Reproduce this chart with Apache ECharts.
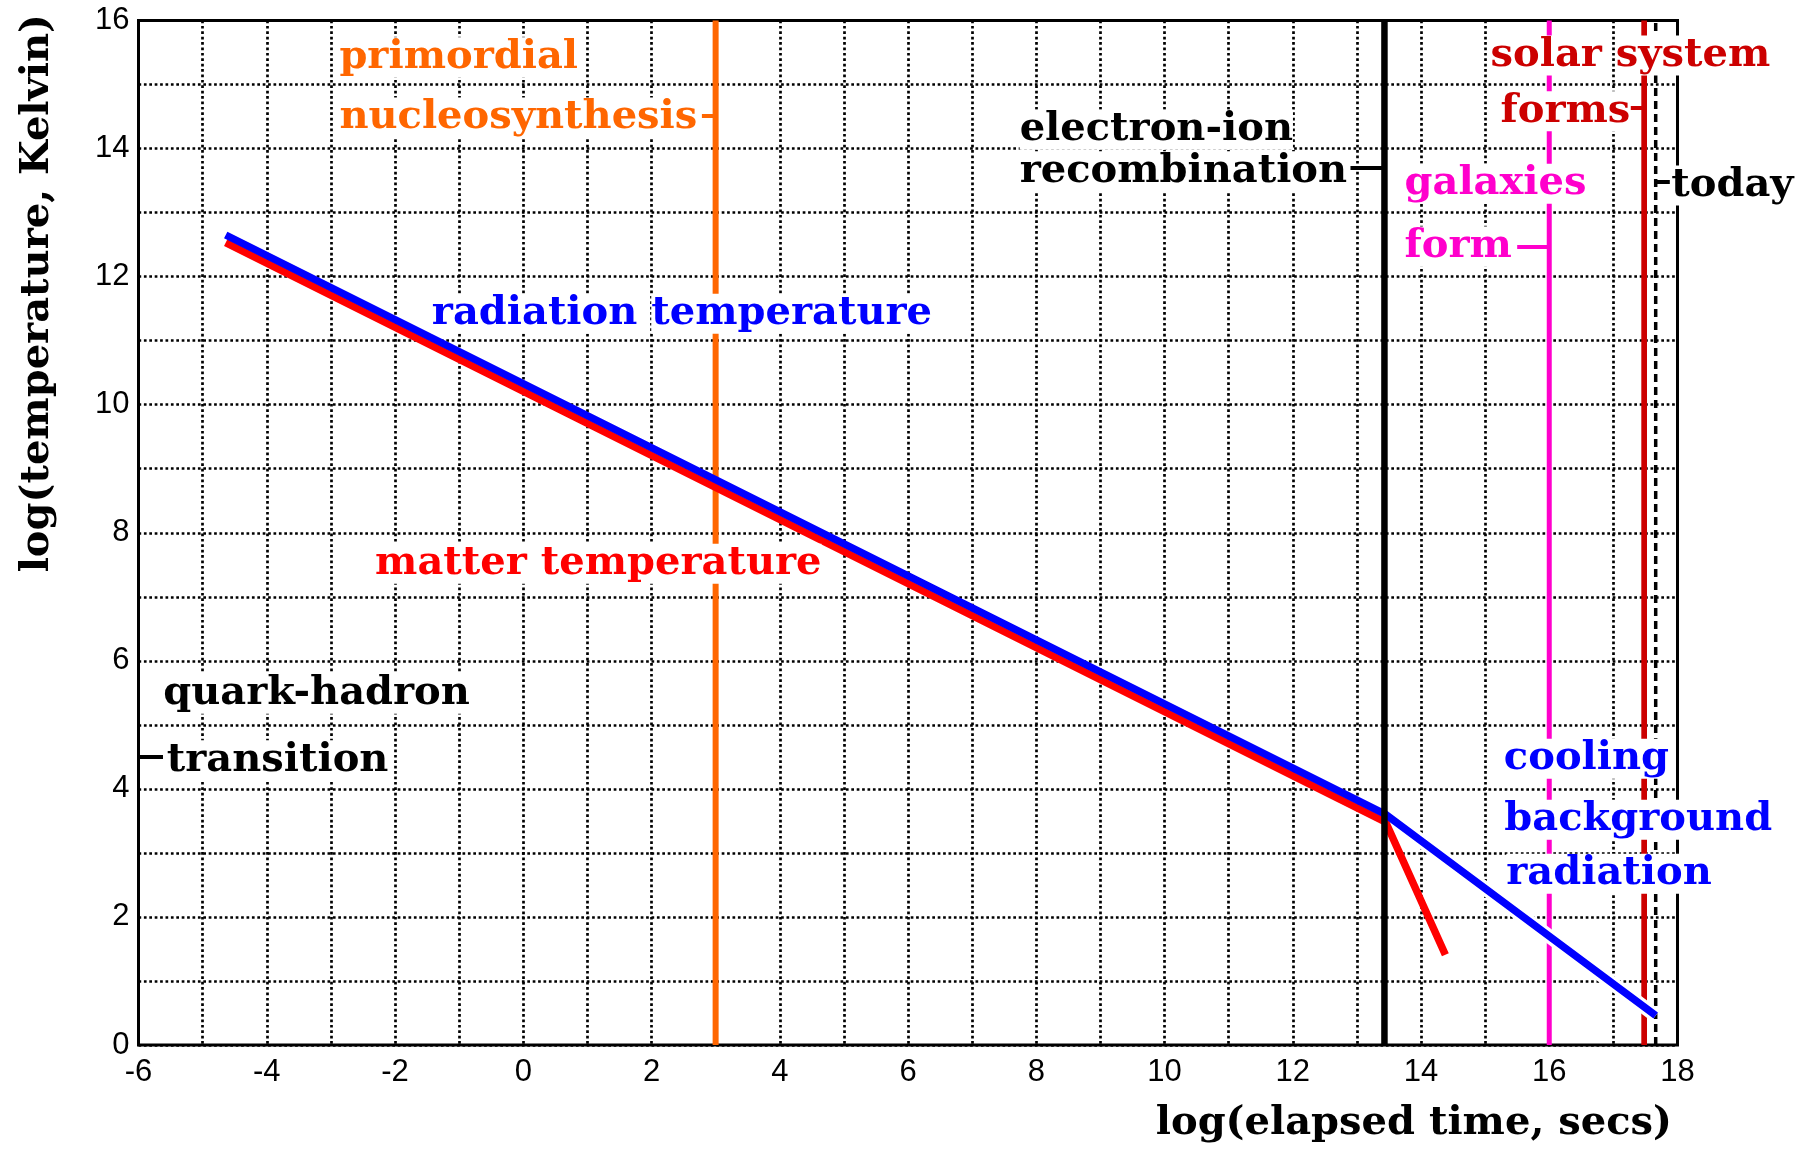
<!DOCTYPE html>
<html>
<head>
<meta charset="utf-8">
<title>Thermal history of the universe</title>
<script src="https://cdn.jsdelivr.net/npm/echarts@6/dist/echarts.min.js"></script>
<style>
  html, body { margin: 0; padding: 0; background: #ffffff; }
  #chart { width: 1795px; height: 1149px; }
</style>
</head>
<body>
<div id="chart"></div>
<script>
// ---- Axis ticks -------------------------------------------------------
const xTickLabels = ['-6', '-4', '-2', '0', '2', '4', '6', '8', '10', '12', '14', '16', '18'];
const yTickLabels = ['0', '2', '4', '6', '8', '10', '12', '14', '16'];
const xTitle = 'log(elapsed time, secs)';
const yTitle = 'log(temperature, Kelvin)';

// ---- Temperature histories: [log(time / s), log(T / K)] ---------------
const radiationTemp = [[-4.64, 12.65], [13.45, 3.60], [17.66, 0.46]];
const matterTemp    = [[-4.64, 12.53], [13.45, 3.48], [14.38, 1.41]];

// ---- Epoch markers: log(time / s) --------------------------------------
const epochKeys  = ['nucleosynthesis', 'recombination', 'galaxies', 'solarSystem', 'today'];
const epochTimes = [3.00, 13.43, 16.00, 17.48, 17.66];

// ---- Annotation text: words, left edge (log t), middle (log T) --------
const noteTexts = ['primordial', 'nucleosynthesis', 'electron-ion', 'recombination',
  'radiation temperature', 'matter temperature', 'quark-hadron', 'transition',
  'galaxies', 'form', 'solar system', 'forms', 'today',
  'cooling', 'background', 'radiation'];
const noteX = [-2.867, -2.867, 7.741, 7.741, -1.426, -2.31, -5.613, -5.56,
  13.743, 13.743, 15.084, 15.24, 17.903, 15.292, 15.30, 15.33];
const noteY = [15.48, 14.54, 14.35, 13.70, 11.476, 7.572, 5.542, 4.50,
  13.506, 12.527, 15.509, 14.639, 13.479, 4.527, 3.574, 2.731];
const noteKinds = ['nucleosynthesis', 'nucleosynthesis', 'ink', 'ink', 'radiation', 'matter',
  'ink', 'ink', 'galaxies', 'galaxies', 'solarSystem', 'solarSystem', 'ink',
  'radiation', 'radiation', 'radiation'];

// ---- Leader ticks joining labels to their marker lines ----------------
const leaderFrom = [[2.786, 14.518], [12.90, 13.693], [15.50, 12.469], [17.27, 14.63], [17.66, 13.484], [-6.0, 4.505]];
const leaderTo   = [[3.00, 14.518], [13.43, 13.693], [16.00, 12.469], [17.48, 14.63], [17.88, 13.484], [-5.618, 4.505]];
const leaderKinds = ['nucleosynthesis', 'ink', 'galaxies', 'solarSystem', 'ink', 'ink'];

// ---- Styling -----------------------------------------------------------
const palette = {
  ink: '#000000',
  radiation: '#0000ff',
  matter: '#ff0000',
  nucleosynthesis: '#ff6600',
  recombination: '#000000',
  galaxies: '#ff00cc',
  solarSystem: '#cc0000',
  today: '#000000'
};
const epochStyle = {
  nucleosynthesis: { width: 6, type: 'solid', z: 2 },
  recombination:   { width: 6.5, type: 'solid', z: 6 },
  galaxies:        { width: 5, type: 'solid', z: 2 },
  solarSystem:     { width: 5.7, type: 'solid', z: 2 },
  today:           { width: 3.5, type: [8, 5], z: 2 }
};
const serifBold = { fontFamily: "'DejaVu Serif', 'Liberation Serif', serif", fontWeight: 'bold', fontSize: 40 };
const tickFont = { fontFamily: "'Liberation Sans', Arial, sans-serif", fontSize: 31, color: '#000' };
const dotted = { color: '#000', width: 2.7, type: [2.7, 2.7] };

const chart = echarts.init(document.getElementById('chart'), null, { renderer: 'canvas' });

function tickFormatter(labels, min, step) {
  return function (v) {
    const i = Math.round((v - min) / step);
    return (Math.abs(min + i * step - v) < 1e-6 && labels[i] !== undefined) ? labels[i] : '';
  };
}

const series = [];

// epoch marker lines spanning the full temperature range
epochKeys.forEach(function (key, i) {
  const t = epochTimes[i];
  series.push({
    type: 'line',
    name: key,
    data: [[t, 0], [t, 16]],
    symbol: 'none',
    silent: true,
    z: epochStyle[key].z,
    lineStyle: { color: palette[key], width: epochStyle[key].width, type: epochStyle[key].type, cap: 'butt' }
  });
});

// white clearance under the free-streaming background radiation
series.push({
  type: 'line',
  name: 'clearance',
  data: radiationTemp.slice(1),
  symbol: 'none',
  silent: true,
  z: 3,
  lineStyle: { color: '#ffffff', width: 14, cap: 'butt' }
});

series.push({
  type: 'line',
  name: 'matter temperature',
  data: matterTemp,
  symbol: 'none',
  silent: true,
  z: 4,
  lineStyle: { color: palette.matter, width: 7.5, cap: 'butt', join: 'miter' }
});

series.push({
  type: 'line',
  name: 'radiation temperature',
  data: radiationTemp,
  symbol: 'none',
  silent: true,
  z: 5,
  lineStyle: { color: palette.radiation, width: 7.5, cap: 'butt', join: 'miter' }
});

// leader ticks
series.push({
  type: 'lines',
  coordinateSystem: 'cartesian2d',
  silent: true,
  z: 7,
  data: leaderFrom.map(function (p, i) {
    return { coords: [p, leaderTo[i]], lineStyle: { color: palette[leaderKinds[i]] } };
  }),
  lineStyle: { width: 4, opacity: 1, curveness: 0 }
});

// annotation words, each word on its own white plate
series.push({
  type: 'scatter',
  name: 'notes',
  silent: true,
  z: 8,
  symbolSize: 0,
  itemStyle: { color: 'rgba(0,0,0,0)', opacity: 1 },
  data: noteTexts.map(function (txt, i) {
    const col = palette[noteKinds[i]];
    return {
      value: [noteX[i], noteY[i]],
      label: {
        show: true,
        position: 'right',
        distance: 0,
        offset: [0, 3.5],
        opacity: 1,
        align: 'left',
        verticalAlign: 'middle',
        color: col,
        fontFamily: serifBold.fontFamily,
        fontWeight: serifBold.fontWeight,
        fontSize: serifBold.fontSize,
        formatter: txt.split(' ').map(function (w) { return '{w|' + w + '}'; }).join(' '),
        rich: {
          w: {
            color: col,
            fontFamily: serifBold.fontFamily,
            fontWeight: serifBold.fontWeight,
            fontSize: serifBold.fontSize,
            backgroundColor: '#ffffff',
            lineHeight: 35
          }
        }
      }
    };
  })
});

chart.setOption({
  animation: false,
  backgroundColor: '#ffffff',
  grid: {
    left: 138.5, right: 117.5, top: 20.5, bottom: 104,
    show: true, borderColor: '#000', borderWidth: 3, backgroundColor: 'transparent',
    containLabel: false, outerBoundsMode: 'none'
  },
  xAxis: {
    type: 'value', min: -6, max: 18, interval: 2,
    name: xTitle,
    nameLocation: 'end', nameGap: -5.5, nameMoveOverlap: false,
    nameTextStyle: Object.assign({}, serifBold, { color: '#000', align: 'right', verticalAlign: 'top', lineHeight: 40, padding: [59, 0, 0, 0] }),
    axisLine: { show: false },
    axisTick: { show: false },
    axisLabel: Object.assign({}, tickFont, { margin: 12, formatter: tickFormatter(xTickLabels, -6, 2) }),
    splitLine: { show: true, lineStyle: dotted },
    minorTick: { show: false, splitNumber: 2 },
    minorSplitLine: { show: true, lineStyle: dotted }
  },
  yAxis: {
    type: 'value', min: 0, max: 16, interval: 2,
    axisLine: { show: false },
    axisTick: { show: false },
    axisLabel: Object.assign({}, tickFont, { margin: 9, formatter: tickFormatter(yTickLabels, 0, 2) }),
    splitLine: { show: true, lineStyle: dotted },
    minorTick: { show: false, splitNumber: 2 },
    minorSplitLine: { show: true, lineStyle: dotted }
  },
  series: series
});

// vertical axis title, hung from the top-left corner of the plot frame
const corner = chart.convertToPixel({ gridIndex: 0 }, [-6, 16]);
chart.setOption({
  graphic: [{
    type: 'text',
    silent: true,
    x: corner[0] - 100.5,
    y: corner[1] - 6.5,
    rotation: Math.PI / 2,
    style: {
      text: yTitle,
      fill: '#000',
      font: 'bold 40px "DejaVu Serif", "Liberation Serif", serif',
      align: 'right',
      verticalAlign: 'middle'
    }
  }]
});
</script>
</body>
</html>
